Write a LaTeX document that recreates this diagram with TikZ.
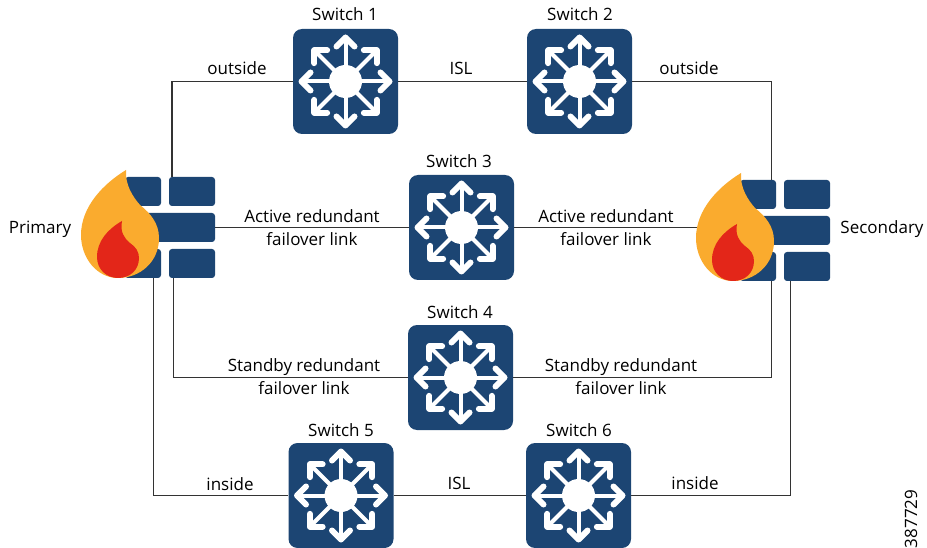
\documentclass[tikz,border=0pt]{standalone}
\usepackage{fontspec}
\setmainfont{Open Sans}
\definecolor{BrickClr}{rgb}{0.11,0.27,0.45}
\definecolor{FlameClr}{rgb}{0.98,0.67,0.18}
\definecolor{CoreClr}{rgb}{0.89,0.15,0.10}
\definecolor{LineClr}{rgb}{0.2,0.2,0.2}

\tikzset{
  SwitchBox/.style={fill=BrickClr,rounded corners=9pt,minimum width=105pt,minimum height=105pt,inner sep=0pt},
  SwitchShaft/.style={draw=white,line width=4pt},
  SwitchHead/.style={draw=white,line width=6pt,line join=round,line cap=round},
  Brick/.style={fill=BrickClr,rounded corners=3pt,minimum height=29pt,inner sep=0pt},
  Link/.style={color=LineClr,line width=1.1pt},
  Lbl/.style={font=\fontsize{17}{23}\selectfont,align=center,inner sep=0pt}
}

\newcommand{\DrawSwitch}[1]{
  \fill[white] (#1) circle (16.5pt);
  \foreach \ang in {0,45,...,315}{
    \begin{scope}[shift={(#1)},rotate=\ang]
      \draw[SwitchShaft] (0,0) -- (44,0);
      \draw[SwitchHead] (35,-9) -- (44,0) -- (35,9);
    \end{scope}
  }
}

\newcommand{\DrawBricks}[3]{
  \begin{scope}[shift={(#2,#3)}]
    \node[Brick,minimum width=36pt] (#1TL) at (143,191.5) {};
    \node[Brick,minimum width=46pt] (#1TR) at (192,191.5) {};
    \node[Brick,minimum width=80pt] (#1M) at (175,227.5) {};
    \node[Brick,minimum width=36pt] (#1BL) at (143,263.5) {};
    \node[Brick,minimum width=46pt] (#1BR) at (192,263.5) {};
  \end{scope}
}

\newcommand{\DrawFlame}[2]{
  \begin{scope}[shift={(#1,#2)}]
    \fill[FlameClr] (126,170) .. controls (125,185) and (133,197) .. (140,205)
      .. controls (150,213) and (159,223) .. (159,238)
      .. controls (159,262) and (140,278) .. (118,278)
      .. controls (97,278) and (81,258) .. (81,235)
      .. controls (81,207) and (103,184) .. (126,170) -- cycle;
    \fill[CoreClr] (122,221) .. controls (120,232) and (124,238) .. (130,243)
      .. controls (136,247) and (139,252) .. (139,258)
      .. controls (139,270) and (130,278) .. (118,278)
      .. controls (106,278) and (97,269) .. (97,257)
      .. controls (97,241) and (108,229) .. (122,221) -- cycle;
  \end{scope}
}

\begin{document}
\begin{tikzpicture}[x=1pt,y=-1pt]
\useasboundingbox (0,0) rectangle (927,548);

\DrawBricks{Pri}{0}{0}
\DrawBricks{Sec}{615}{3}

\node[SwitchBox] (Sw1) at (345.5,81.5) {};
\node[SwitchBox] (Sw2) at (579.5,81.5) {};
\node[SwitchBox] (Sw3) at (461.5,227.5) {};
\node[SwitchBox] (Sw4) at (460.5,377.5) {};
\node[SwitchBox] (Sw5) at (341,495.5) {};
\node[SwitchBox] (Sw6) at (578.5,495.5) {};

\foreach \sw in {Sw1,Sw2,Sw3,Sw4,Sw5,Sw6}{\DrawSwitch{\sw}}

\draw[Link] ([xshift=-20pt]PriTR.north) |- (Sw1.west);
\draw[Link] (Sw1.east) -- (Sw2.west);
\draw[Link] (Sw2.east) -| ([xshift=-5pt]SecTL.north east);
\draw[Link] (PriM.east |- Sw3.west) -- (Sw3.west);
\draw[Link] (Sw3.east) -- (Sw3.east -| SecM.west);
\draw[Link] ([xshift=-18.5pt]PriBR.south) |- (Sw4.west);
\draw[Link] (Sw4.east) -| ([xshift=-5pt]SecBL.south east);
\draw[Link] ([xshift=-8pt]PriBL.south east) |- (Sw5.west);
\draw[Link] (Sw5.east) -- (Sw6.west);
\draw[Link] (Sw6.east) -| ([xshift=-16.5pt]SecBR.south);

\DrawFlame{0}{0}
\DrawFlame{615}{3}

\node[Lbl] (T1) at (345,14) {Switch 1};
\node[Lbl] (T2) at (580,14) {Switch 2};
\node[Lbl] (T3) at (459,161) {Switch 3};
\node[Lbl] (T4) at (460,312) {Switch 4};
\node[Lbl] (T5) at (341,430) {Switch 5};
\node[Lbl] (T6) at (579,430) {Switch 6};

\node[Lbl] (LblOutA) at (237,68) {outside};
\node[Lbl] (LblIslA) at (461,68) {ISL};
\node[Lbl] (LblOutB) at (689,68) {outside};
\node[Lbl] (LblActA) at (312,227.5) {Active redundant\\failover link};
\node[Lbl] (LblActB) at (606,227.5) {Active redundant\\failover link};
\node[Lbl] (LblStbA) at (304,377) {Standby redundant\\failover link};
\node[Lbl] (LblStbB) at (621,377) {Standby redundant\\failover link};
\node[Lbl] (LblInA) at (230,484) {inside};
\node[Lbl] (LblIslB) at (459,483) {ISL};
\node[Lbl] (LblInB) at (695,483) {inside};

\node[Lbl] (LblPri) at (40,229) {Primary};
\node[Lbl] (LblSec) at (882,229) {Secondary};

\node[Lbl,rotate=90] (LblNum) at (911,519) {387729};
\end{tikzpicture}
\end{document}
